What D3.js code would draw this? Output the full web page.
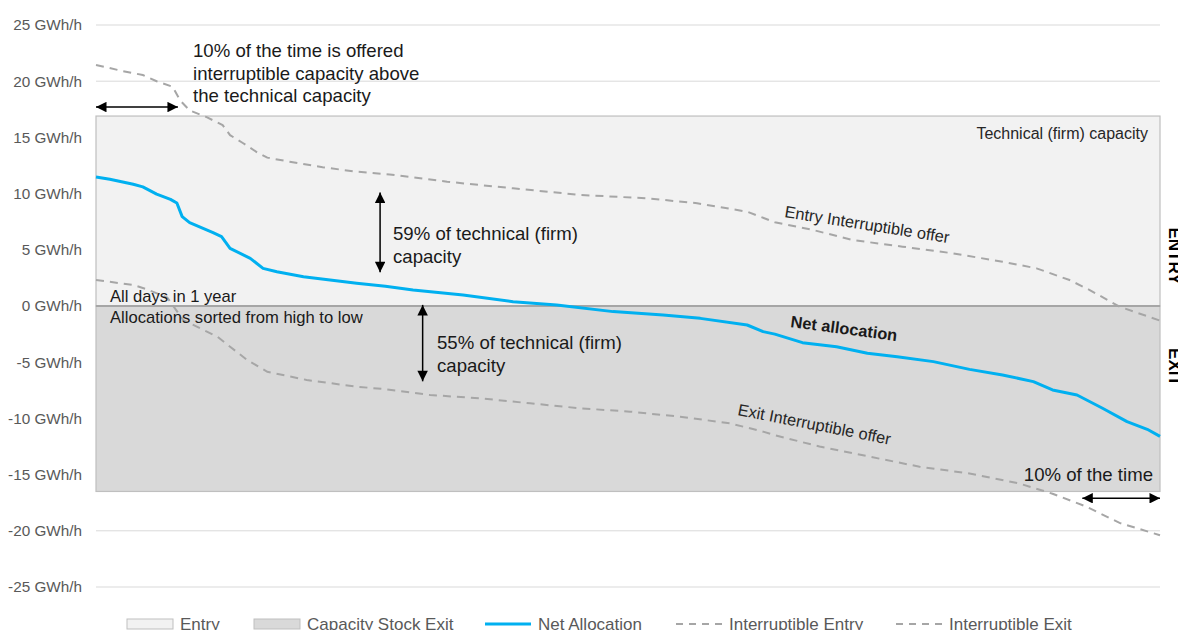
<!DOCTYPE html>
<html>
<head>
<meta charset="utf-8">
<script src="https://cdn.jsdelivr.net/npm/d3@7"></script>
<style>
  body { margin: 0; background: #fff; }
  svg { font-family: "Liberation Sans", Arial, sans-serif; }
</style>
</head>
<body>
<div id="chart"></div>
<script>
// data (x = % of the year, sorted high to low; y = GWh/h)
const yTicks = [25, 20, 15, 10, 5, 0, -5, -10, -15, -20, -25];
const techEntry = 16.9;
const techExit = -16.5;

const netX = [0, 1.3, 3.5, 4.4, 5.7, 7.0, 7.6, 8.1, 8.8, 11.0, 11.8, 12.6, 14.5, 15.7, 17.0, 19.5, 22.0, 24.5, 27.2, 29.8, 34.5, 39.2, 43.3, 48.6, 53.3, 56.8, 61.2, 62.7, 63.8, 66.4, 69.6, 72.5, 75.3, 78.7, 82.1, 85.2, 88.1, 89.9, 92.2, 94.6, 96.9, 98.8, 100];
const netY = [11.48, 11.27, 10.83, 10.6, 9.96, 9.49, 9.16, 7.95, 7.41, 6.52, 6.17, 5.13, 4.24, 3.35, 3.05, 2.61, 2.31, 2.02, 1.75, 1.42, 0.98, 0.38, 0.09, -0.5, -0.8, -1.1, -1.69, -2.28, -2.5, -3.26, -3.62, -4.21, -4.51, -4.95, -5.64, -6.14, -6.73, -7.47, -7.92, -9.1, -10.29, -10.97, -11.6];

const entryX = [0, 2.5, 4.4, 5.7, 7.2, 7.9, 8.8, 10.4, 11.9, 12.6, 13.8, 15.1, 16.1, 18.2, 21.3, 24.5, 27.6, 33.0, 39.2, 45.5, 51.8, 56.5, 61.2, 63.8, 67.4, 71.1, 75.8, 80.5, 85.2, 88.4, 91.5, 93.4, 96.2, 100];
const entryY = [21.45, 20.9, 20.55, 20.0, 19.5, 18.3, 17.4, 16.8, 16.1, 15.2, 14.5, 13.7, 13.2, 12.84, 12.34, 11.95, 11.7, 11.06, 10.47, 9.88, 9.58, 9.14, 8.39, 7.45, 6.76, 5.87, 5.28, 4.69, 3.94, 3.35, 2.31, 1.42, -0.06, -1.3];

const exitX = [0, 2.5, 3.5, 4.8, 6.7, 8.2, 11.4, 12.6, 14.2, 16.1, 19.8, 24.5, 27.2, 31.4, 36.1, 40.8, 45.5, 50.2, 54.9, 59.6, 62.7, 63.8, 68.0, 72.7, 77.4, 82.1, 86.8, 89.9, 93.1, 96.2, 100];
const exitY = [2.31, 2.0, 1.87, 1.48, 0.75, -1.25, -2.73, -3.62, -4.8, -5.85, -6.58, -7.18, -7.4, -7.92, -8.21, -8.66, -9.1, -9.4, -9.85, -10.44, -11.18, -11.5, -12.5, -13.4, -14.3, -14.9, -15.8, -16.7, -17.86, -19.3, -20.4];

const legendNames = ["Entry", "Capacity Stock Exit", "Net Allocation", "Interruptible Entry", "Interruptible Exit"];

const W = 1178, H = 630;
const blue = "#00b0f0", dashGrey = "#a6a6a6";

const svg = d3.select("#chart").append("svg")
    .attr("width", W)
    .attr("height", H);

const x = d3.scaleLinear().domain([0, 100]).range([96, 1160]);
const y = d3.scaleLinear().domain([-25, 25]).range([587, 25]);

svg.append("defs").append("marker")
  .attr("id", "arr")
  .attr("viewBox", "0 0 10 10")
  .attr("refX", 10).attr("refY", 5)
  .attr("markerWidth", 8).attr("markerHeight", 7)
  .attr("markerUnits", "strokeWidth")
  .attr("orient", "auto-start-reverse")
  .append("path")
  .attr("d", "M0,0L10,5L0,10z")
  .attr("fill", "#000");

// gridlines
svg.append("g")
  .selectAll("line")
  .data(yTicks)
  .enter().append("line")
  .attr("x1", x(0)).attr("x2", x(100))
  .attr("y1", d => y(d)).attr("y2", d => y(d))
  .attr("stroke", "#d9d9d9")
  .attr("stroke-width", 1);

// technical capacity areas
svg.append("rect")
  .attr("x", x(0)).attr("y", y(techEntry))
  .attr("width", x(100) - x(0)).attr("height", y(0) - y(techEntry))
  .attr("fill", "#f2f2f2").attr("stroke", "#bfbfbf").attr("stroke-width", 1.2);
svg.append("rect")
  .attr("x", x(0)).attr("y", y(0))
  .attr("width", x(100) - x(0)).attr("height", y(techExit) - y(0))
  .attr("fill", "#d9d9d9").attr("stroke", "#bfbfbf").attr("stroke-width", 1.2);
svg.append("line")
  .attr("x1", x(0)).attr("x2", x(100))
  .attr("y1", y(0)).attr("y2", y(0))
  .attr("stroke", "#a6a6a6").attr("stroke-width", 2);

// y axis
const yAxis = svg.append("g")
  .attr("transform", "translate(" + (x(0) - 14) + ",0)")
  .call(d3.axisLeft(y).tickValues(yTicks).tickSize(0).tickFormat(d => d + " GWh/h"));
yAxis.select(".domain").remove();
yAxis.selectAll("text")
  .attr("fill", "#595959")
  .attr("x", 0)
  .style("font-size", "15.3px")
  .style("font-family", "'Liberation Sans', Arial, sans-serif");

const line = d3.line().x(d => x(d[0])).y(d => y(d[1]));

svg.append("path")
  .datum(d3.zip(entryX, entryY))
  .attr("d", line)
  .attr("fill", "none").attr("stroke", dashGrey)
  .attr("stroke-width", 2).attr("stroke-dasharray", "8,6");
svg.append("path")
  .datum(d3.zip(exitX, exitY))
  .attr("d", line)
  .attr("fill", "none").attr("stroke", dashGrey)
  .attr("stroke-width", 2).attr("stroke-dasharray", "8,6");
svg.append("path")
  .datum(d3.zip(netX, netY))
  .attr("d", line)
  .attr("fill", "none").attr("stroke", blue)
  .attr("stroke-width", 3).attr("stroke-linejoin", "round");

// arrows
function arrow(x1, y1, x2, y2) {
  svg.append("line")
    .attr("x1", x(x1)).attr("y1", y(y1))
    .attr("x2", x(x2)).attr("y2", y(y2))
    .attr("stroke", "#000").attr("stroke-width", 1.5)
    .attr("marker-start", "url(#arr)")
    .attr("marker-end", "url(#arr)");
}
arrow(0, 17.7, 7.7, 17.7);
arrow(26.7, 10.1, 26.7, 3.0);
arrow(30.7, 0.1, 30.7, -6.7);
arrow(92.7, -17.1, 100, -17.1);

// annotation text
function label(px, py, lines, size, opts) {
  opts = opts || {};
  const t = svg.append("text")
    .attr("x", px).attr("y", py)
    .attr("fill", opts.fill || "#1a1a1a")
    .attr("text-anchor", opts.anchor || "start")
    .style("font-size", size + "px")
    .style("font-weight", opts.bold ? "bold" : "normal");
  if (opts.rotate) t.attr("transform", "rotate(" + opts.rotate + "," + px + "," + py + ")");
  lines.forEach(function(s, i) {
    t.append("tspan").attr("x", px).attr("dy", i == 0 ? 0 : opts.lh || size * 1.3).text(s);
  });
  return t;
}
label(193, 57, ["10% of the time is offered", "interruptible capacity above", "the technical capacity"], 18.6, {lh: 22.5});
label(1148, 139, ["Technical (firm) capacity"], 16, {anchor: "end", fill: "#262626"});
label(393, 240, ["59% of technical (firm)", "capacity"], 18.6, {lh: 22.5});
label(437, 349, ["55% of technical (firm)", "capacity"], 18.6, {lh: 22.5});
label(110, 302, ["All days in 1 year", "Allocations sorted from high to low"], 16.6, {lh: 21});
label(784, 217, ["Entry Interruptible offer"], 16.4, {rotate: 9, fill: "#262626"});
label(737, 415, ["Exit Interruptible offer"], 16.4, {rotate: 11, fill: "#262626"});
label(790, 327, ["Net allocation"], 16.4, {rotate: 7.5, bold: true});
label(1153, 481, ["10% of the time"], 18.6, {anchor: "end"});
label(1169, 256, ["ENTRY"], 17, {anchor: "middle", bold: true, rotate: 90, fill: "#000"});
label(1169, 367, ["EXIT"], 17, {anchor: "middle", bold: true, rotate: 90, fill: "#000"});

// legend
const legX = [127, 254, 485, 676, 896];
const leg = svg.append("g");
legendNames.forEach(function(name, i) {
  const g = leg.append("g").attr("transform", "translate(" + legX[i] + ",624)");
  if (i < 2) {
    g.append("rect").attr("x", 0).attr("y", -5).attr("width", 46).attr("height", 10)
      .attr("fill", i == 0 ? "#f2f2f2" : "#d9d9d9").attr("stroke", "#bfbfbf");
  } else {
    g.append("line").attr("x1", 0).attr("x2", 46).attr("y1", 0).attr("y2", 0)
      .attr("stroke", i == 2 ? blue : dashGrey)
      .attr("stroke-width", i == 2 ? 3 : 2)
      .attr("stroke-dasharray", i == 2 ? null : "7,6");
  }
  g.append("text")
    .attr("x", 53).attr("y", 6)
    .attr("fill", "#595959")
    .style("font-size", "17px")
    .text(name);
});
</script>
</body>
</html>
